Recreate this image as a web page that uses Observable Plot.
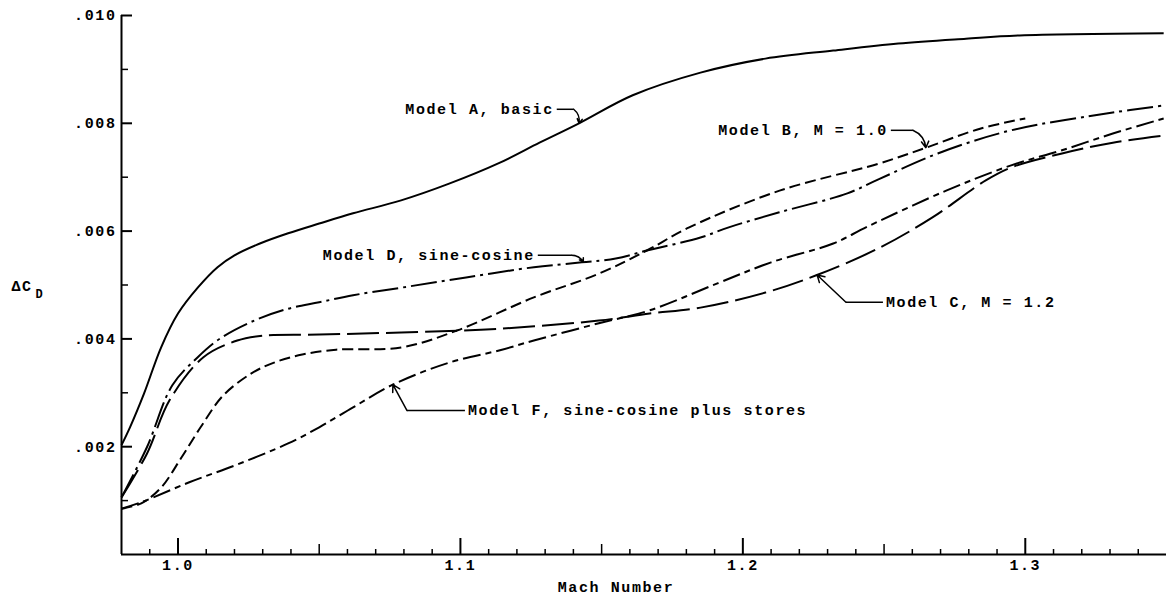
<!DOCTYPE html>
<html><head><meta charset="utf-8">
<script src="https://cdn.jsdelivr.net/npm/d3@7"></script>
<script src="https://cdn.jsdelivr.net/npm/@observablehq/plot@0.6"></script>
<style>
html,body{margin:0;padding:0;background:#fff;}
#chart svg{display:block;}
</style></head><body><div id="chart"></div>
<script>
// ---- data (Mach number, ΔC_D) ----
const machA = [0.980,0.983,0.988,0.994,1.000,1.007,1.014,1.020,1.029,1.039,1.050,1.062,1.079,1.096,1.114,1.128,1.142,1.161,1.185,1.208,1.232,1.255,1.279,1.298,1.349];
const cdA   = [.00203,.00236,.00299,.00384,.00447,.00495,.00533,.00555,.00577,.00596,.00614,.00633,.00657,.00688,.00727,.00764,.00800,.00852,.00894,.00920,.00935,.00948,.00957,.00963,.00967];

const machB = [0.980,0.987,0.994,1.001,1.008,1.016,1.026,1.034,1.044,1.056,1.079,1.099,1.126,1.149,1.166,1.181,1.213,1.248,1.265,1.284,1.300];
const cdB   = [.00085,.00095,.00124,.00178,.00236,.00295,.00336,.00356,.00371,.00380,.00384,.00416,.00477,.00521,.00564,.00607,.00675,.00725,.00755,.00790,.00809];

const machC = [0.980,0.989,0.997,1.009,1.021,1.030,1.050,1.079,1.114,1.149,1.167,1.185,1.208,1.226,1.248,1.267,1.286,1.295,1.313,1.331,1.349];
const cdC   = [.00106,.00187,.00286,.00366,.00397,.00406,.00408,.00412,.00419,.00434,.00447,.00458,.00486,.00518,.00568,.00625,.00694,.00718,.00744,.00764,.00777];

const machD = [0.980,0.989,0.998,1.007,1.015,1.027,1.039,1.050,1.062,1.079,1.102,1.126,1.143,1.155,1.166,1.185,1.195,1.213,1.237,1.248,1.269,1.295,1.331,1.349];
const cdD   = [.00106,.00199,.00314,.00366,.00401,.00434,.00456,.00468,.00481,.00495,.00514,.00533,.00542,.00549,.00564,.00588,.00607,.00635,.00670,.00696,.00744,.00787,.00820,.00833];

const machF = [0.980,0.987,1.004,1.021,1.039,1.050,1.062,1.076,1.096,1.114,1.126,1.149,1.167,1.191,1.210,1.232,1.244,1.272,1.295,1.313,1.331,1.349];
const cdF   = [.00085,.00097,.00134,.00167,.00206,.00236,.00273,.00315,.00356,.00379,.00397,.00429,.00453,.00503,.00542,.00577,.00608,.00675,.00722,.00750,.00781,.00809];

// ---- axis ticks ----
const xMajor = [1.0, 1.1, 1.2, 1.3];
const xTickLabels = ["1.0", "1.1", "1.2", "1.3"];
const yMajor = [0.002, 0.004, 0.006, 0.008, 0.010];
const yTickLabels = [".002", ".004", ".006", ".008", ".010"];
const xTitle = "Mach Number";
const yTitle = "ΔC";
const yTitleSub = "D";

// ---- annotations ----
const annModel  = ["A", "B", "C", "D", "F"];
const annText   = ["Model A, basic", "Model B, M = 1.0", "Model C, M = 1.2", "Model D, sine-cosine", "Model F, sine-cosine plus stores"];
const annStart  = [1.1341, 1.2524, 1.2496, 1.1274, 1.1016];
const annCD     = [.00826, .00787, .00468, .00555, .00267];
const annElbow  = [1.1401, 1.2602, 1.2365, 1.1394, 1.0811];
const annTarget = [1.1420, 1.2648, 1.2263, 1.1435, 1.0761];
const annSide   = ["left", "left", "right", "left", "right"];

// ---- build tables ----
const series = [
  {model: "A", mach: machA, cd: cdA, dash: null},
  {model: "B", mach: machB, cd: cdB, dash: "11,5"},
  {model: "C", mach: machC, cd: cdC, dash: "32,7"},
  {model: "D", mach: machD, cd: cdD, dash: "26,5,3,5"},
  {model: "F", mach: machF, cd: cdF, dash: "18,5,6,5"}
];
function cdAt(model, m) {
  const s = series.find(d => d.model === model);
  const i = Math.max(1, Math.min(s.mach.length - 1, d3.bisectLeft(s.mach, m)));
  const t = (m - s.mach[i - 1]) / (s.mach[i] - s.mach[i - 1]);
  return s.cd[i - 1] + t * (s.cd[i] - s.cd[i - 1]);
}
const ann = annModel.map((m, i) => ({
  model: m, text: annText[i], start: annStart[i], cd: annCD[i],
  elbow: annElbow[i], target: annTarget[i], targetCD: cdAt(m, annTarget[i]), side: annSide[i]
}));

const W = 1166, H = 600, ML = 121, MR = 0, MT = 15, MB = 46;
const frameH = H - MT - MB, frameW = W - ML - MR;
const xMinor = d3.range(99, 135).map(i => i / 100).filter(v => Math.abs(v * 20 - Math.round(v * 20)) > 1e-6);
const xMid = [1.05, 1.15, 1.25];
const yMinor = [0.001, 0.003, 0.005, 0.007, 0.009];
const font = "'Liberation Mono', 'DejaVu Sans Mono', monospace";

const lineMarks = series.map(s => Plot.line(s.mach.map((x, i) => ({mach: x, cd: s.cd[i]})), {
  x: "mach", y: "cd", curve: "catmull-rom", stroke: "black", strokeWidth: 2,
  strokeDasharray: s.dash || undefined, strokeLinecap: "butt"
}));

const chart = Plot.plot({
  width: W, height: H,
  marginLeft: ML, marginRight: MR, marginTop: MT, marginBottom: MB,
  x: {domain: [0.98, 1.35]},
  y: {domain: [0, 0.010]},
  style: {fontFamily: font, fontSize: "15px", fontWeight: "bold", letterSpacing: "1.6px", background: "white", color: "black", overflow: "visible"},
  marks: [
    // axis lines
    Plot.ruleY([0], {x1: 0.98, x2: 1.35, stroke: "black", strokeWidth: 2}),
    Plot.ruleX([0.98], {y1: 0, y2: 0.010, stroke: "black", strokeWidth: 2}),
    // inward ticks
    Plot.tickX(xMajor, {x: d => d, insetTop: frameH - 16, stroke: "black", strokeWidth: 2}),
    Plot.tickX(xMid, {x: d => d, insetTop: frameH - 10, stroke: "black", strokeWidth: 1.5}),
    Plot.tickX(xMinor, {x: d => d, insetTop: frameH - 5, stroke: "black", strokeWidth: 1.5}),
    Plot.tickY(yMajor, {y: d => d, insetRight: frameW - 11, stroke: "black", strokeWidth: 2}),
    Plot.tickY(yMinor, {y: d => d, insetRight: frameW - 7, stroke: "black", strokeWidth: 1.5}),
    // tick labels
    Plot.axisX({ticks: xMajor, tickFormat: d => xTickLabels[xMajor.indexOf(d)], tickSize: 0, tickPadding: 5, label: null, fontSize: 15}),
    Plot.axisY({ticks: yMajor, tickFormat: d => yTickLabels[yMajor.indexOf(d)], tickSize: 0, tickPadding: 5, label: null, fontSize: 15}),
    // axis titles
    Plot.text([xTitle], {frameAnchor: "bottom", text: d => d, dx: -28, dy: 37, fontSize: 15}),
    Plot.text([yTitle], {frameAnchor: "left", text: d => d, textAnchor: "start", dx: -110, dy: 1, fontSize: 15}),
    Plot.text([yTitleSub], {frameAnchor: "left", text: d => d, textAnchor: "start", dx: -86, dy: 9, fontSize: 12}),
    // curves
    ...lineMarks,
    // annotations
    Plot.link(ann, {x1: "start", x2: "elbow", y1: "cd", y2: "cd", stroke: "black", strokeWidth: 1.5}),
    Plot.arrow(ann.filter(d => d.side === "left"), {x1: "elbow", y1: "cd", x2: "target", y2: "targetCD", bend: 30, headLength: 8, insetEnd: 0, insetStart: 0, stroke: "black", strokeWidth: 1.5}),
    Plot.arrow(ann.filter(d => d.side === "right"), {x1: "elbow", y1: "cd", x2: "target", y2: "targetCD", headLength: 8, insetEnd: 0, insetStart: 0, stroke: "black", strokeWidth: 1.5}),
    Plot.text(ann.filter(d => d.side === "left"), {x: "start", y: "cd", text: "text", textAnchor: "end", dx: -3, fontSize: 15}),
    Plot.text(ann.filter(d => d.side === "right"), {x: "start", y: "cd", text: "text", textAnchor: "start", dx: 3, fontSize: 15})
  ]
});
document.getElementById("chart").appendChild(chart);
</script>
</body></html>
